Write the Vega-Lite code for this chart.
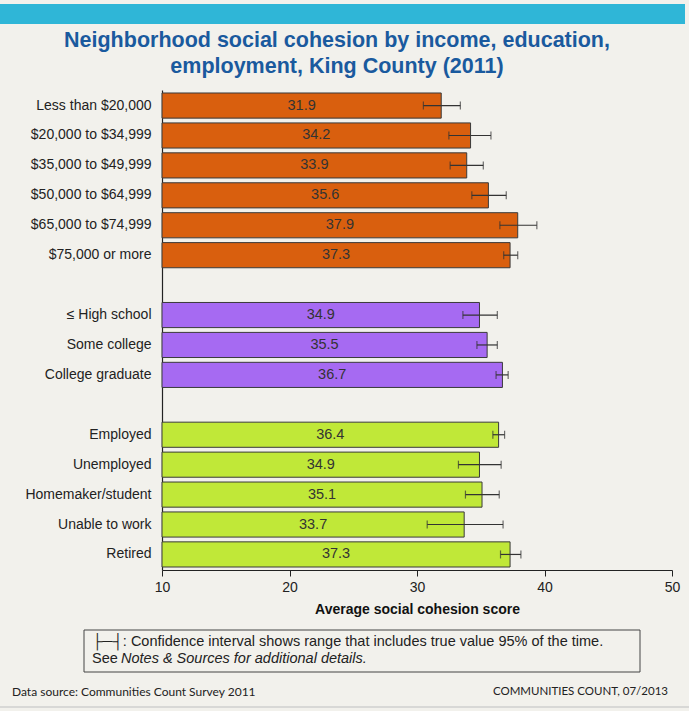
{
  "$schema": "https://vega.github.io/schema/vega-lite/v6.json",
  "width": 510,
  "height": 480,
  "autosize": {"type": "none"},
  "padding": {"left": 162, "top": 90, "right": 17, "bottom": 141},
  "background": "#f2f1ec",
  "config": {"view": {"stroke": null}, "font": "Liberation Sans"},
  "title": {
    "text": ["Neighborhood social cohesion by income, education,", "employment, King County (2011)"],
    "anchor": "middle",
    "frame": "group",
    "dx": -80,
    "fontSize": 21.5,
    "font": "Liberation Sans",
    "fontWeight": "bold",
    "color": "#1a5a9e",
    "lineHeight": 26,
    "offset": -73
  },
  "datasets": {
    "bars": [
      {"cat": "Less than $20,000", "group": "Income", "score": 31.9, "lo": 30.5, "hi": 33.4},
      {"cat": "$20,000 to $34,999", "group": "Income", "score": 34.2, "lo": 32.5, "hi": 35.8},
      {"cat": "$35,000 to $49,999", "group": "Income", "score": 33.9, "lo": 32.6, "hi": 35.2},
      {"cat": "$50,000 to $64,999", "group": "Income", "score": 35.6, "lo": 34.3, "hi": 37.0},
      {"cat": "$65,000 to $74,999", "group": "Income", "score": 37.9, "lo": 36.5, "hi": 39.4},
      {"cat": "$75,000 or more", "group": "Income", "score": 37.3, "lo": 36.8, "hi": 37.9},
      {"cat": "≤ High school", "group": "Education", "score": 34.9, "lo": 33.6, "hi": 36.3},
      {"cat": "Some college", "group": "Education", "score": 35.5, "lo": 34.7, "hi": 36.3},
      {"cat": "College graduate", "group": "Education", "score": 36.7, "lo": 36.2, "hi": 37.15},
      {"cat": "Employed", "group": "Employment", "score": 36.4, "lo": 35.95, "hi": 36.87},
      {"cat": "Unemployed", "group": "Employment", "score": 34.9, "lo": 33.25, "hi": 36.6},
      {"cat": "Homemaker/student", "group": "Employment", "score": 35.1, "lo": 33.8, "hi": 36.45},
      {"cat": "Unable to work", "group": "Employment", "score": 33.7, "lo": 30.8, "hi": 36.75},
      {"cat": "Retired", "group": "Employment", "score": 37.3, "lo": 36.55, "hi": 38.15}
    ]
  },
  "layer": [
    {
      "data": {"values": [{"part": "band"}]},
      "mark": {"type": "rect", "color": "#2fb6d7"},
      "encoding": {
        "x": {"value": -162},
        "x2": {"value": 523},
        "y": {"value": -86},
        "y2": {"value": -66}
      }
    },
    {
      "data": {"name": "bars"},
      "mark": {"type": "bar", "stroke": "#3a3a3a", "strokeWidth": 1},
      "encoding": {
        "y": {
          "field": "cat", "type": "nominal", "title": null,
          "scale": {"domain": ["Less than $20,000", "$20,000 to $34,999", "$35,000 to $49,999", "$50,000 to $64,999", "$65,000 to $74,999", "$75,000 or more", "", "≤ High school", "Some college", "College graduate", " ", "Employed", "Unemployed", "Homemaker/student", "Unable to work", "Retired"], "paddingInner": 0.16, "paddingOuter": 0.1},
          "axis": {"ticks": false, "tickSize": 0, "labelPadding": 11, "labelFontSize": 14, "labelColor": "#222", "domainColor": "#222", "domainWidth": 1.2, "labelFont": "Liberation Sans"}
        },
        "x": {
          "field": "score", "type": "quantitative",
          "scale": {"domain": [10, 50], "zero": false, "nice": false},
          "axis": {"title": "Average social cohesion score", "titleFontSize": 14, "titleFontWeight": "bold", "titleColor": "#111", "titleFont": "Liberation Sans", "values": [10, 20, 30, 40, 50], "tickSize": 6, "tickColor": "#222", "domainColor": "#222", "domainWidth": 1.2, "labelFontSize": 14, "labelColor": "#222", "labelFlush": false, "labelPadding": 4, "titlePadding": 8, "grid": false, "labelFont": "Liberation Sans"}
        },
        "x2": {"datum": 10},
        "color": {
          "field": "group", "type": "nominal", "legend": null,
          "scale": {"domain": ["Income", "Education", "Employment"], "range": ["#d95f0e", "#a66af2", "#c0e838"]}
        }
      }
    },
    {
      "data": {"name": "bars"},
      "mark": {"type": "errorbar", "ticks": {"size": 8, "color": "#333", "thickness": 1.2}, "rule": {"color": "#333", "strokeWidth": 1.2}},
      "encoding": {
        "y": {
          "field": "cat", "type": "nominal",
          "scale": {"domain": ["Less than $20,000", "$20,000 to $34,999", "$35,000 to $49,999", "$50,000 to $64,999", "$65,000 to $74,999", "$75,000 or more", "", "≤ High school", "Some college", "College graduate", " ", "Employed", "Unemployed", "Homemaker/student", "Unable to work", "Retired"], "paddingInner": 0.16, "paddingOuter": 0.1}
        },
        "x": {"field": "lo", "type": "quantitative", "scale": {"domain": [10, 50], "zero": false, "nice": false}, "axis": null},
        "x2": {"field": "hi"}
      }
    },
    {
      "data": {"name": "bars"},
      "mark": {"type": "text", "fontSize": 14.5, "color": "#333", "align": "center", "baseline": "middle", "font": "Liberation Sans"},
      "encoding": {
        "y": {
          "field": "cat", "type": "nominal",
          "scale": {"domain": ["Less than $20,000", "$20,000 to $34,999", "$35,000 to $49,999", "$50,000 to $64,999", "$65,000 to $74,999", "$75,000 or more", "", "≤ High school", "Some college", "College graduate", " ", "Employed", "Unemployed", "Homemaker/student", "Unable to work", "Retired"], "paddingInner": 0.16, "paddingOuter": 0.1}
        },
        "x": {"field": "score", "type": "quantitative", "scale": {"domain": [10, 90], "zero": false, "nice": false}, "axis": null},
        "text": {"field": "score", "type": "quantitative", "format": ".1f"}
      }
    },
    {
      "data": {"values": [{"part": "notebox"}]},
      "mark": {"type": "rect", "fill": "#f2f1ec", "stroke": "#444", "strokeWidth": 1},
      "encoding": {
        "x": {"value": -78},
        "x2": {"value": 478},
        "y": {"value": 540},
        "y2": {"value": 582}
      }
    },
    {
      "data": {"values": [{"note": "├─┤: Confidence interval shows range that includes true value 95% of the time."}]},
      "mark": {"type": "text", "align": "left", "baseline": "middle", "fontSize": 14.5, "color": "#222", "font": "Liberation Sans"},
      "encoding": {"x": {"value": -70}, "y": {"value": 552}, "text": {"field": "note"}}
    },
    {
      "data": {"values": [{"note": "See"}]},
      "mark": {"type": "text", "align": "left", "baseline": "middle", "fontSize": 14.5, "color": "#222", "font": "Liberation Sans"},
      "encoding": {"x": {"value": -70}, "y": {"value": 569}, "text": {"field": "note"}}
    },
    {
      "data": {"values": [{"note": "Notes & Sources for additional details."}]},
      "mark": {"type": "text", "align": "left", "baseline": "middle", "fontSize": 14.5, "fontStyle": "italic", "color": "#222", "font": "Liberation Sans"},
      "encoding": {"x": {"value": -41}, "y": {"value": 569}, "text": {"field": "note"}}
    },
    {
      "data": {"values": [{"note": "Data source: Communities Count Survey 2011"}]},
      "mark": {"type": "text", "align": "left", "baseline": "middle", "fontSize": 12, "color": "#222", "font": "Lato"},
      "encoding": {"x": {"value": -150}, "y": {"value": 602}, "text": {"field": "note"}}
    },
    {
      "data": {"values": [{"note": "COMMUNITIES COUNT, 07/2013"}]},
      "mark": {"type": "text", "align": "right", "baseline": "middle", "fontSize": 11.5, "color": "#222", "font": "Lato"},
      "encoding": {"x": {"value": 506}, "y": {"value": 602}, "text": {"field": "note"}}
    },
    {
      "data": {"values": [{"part": "bottomline"}]},
      "mark": {"type": "rule", "color": "#cfcfcf", "strokeWidth": 1.5},
      "encoding": {"x": {"value": -162}, "x2": {"value": 527}, "y": {"value": 617}}
    }
  ],
  "resolve": {"scale": {"x": "independent"}}
}
